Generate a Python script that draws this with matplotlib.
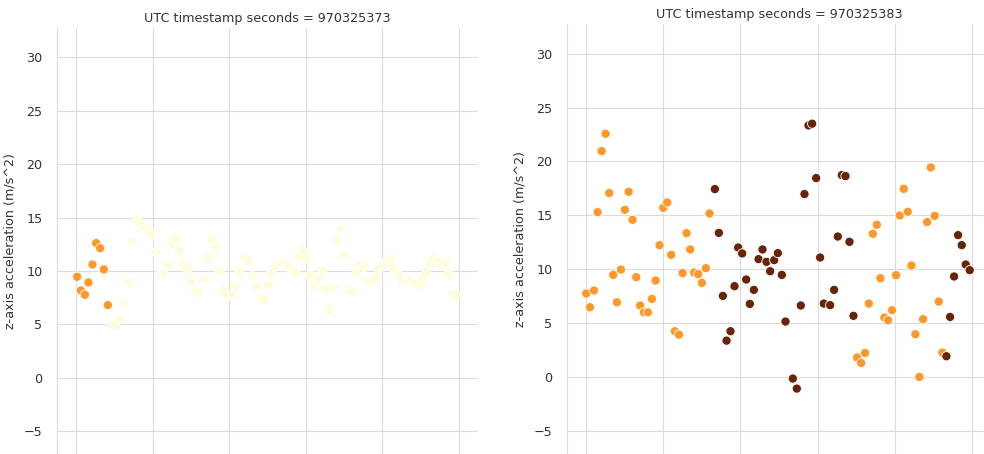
import matplotlib
matplotlib.use("Agg")
import matplotlib.pyplot as plt
import seaborn as sns

sns.set_style("whitegrid", {"grid.color": ".86", "axes.edgecolor": ".86"})
plt.rcParams["font.family"] = ["DejaVu Sans"]
plt.rcParams["font.size"] = 9.2

# sample position within the second and z-acceleration, one block per timestamp
ts_a = 970325373
x_a = [0.26, 1.22, 2.26, 3.22, 4.27, 5.23, 6.27, 7.23, 8.28, 9.32,
       10.37, 11.32, 12.37, 13.94, 14.9, 15.85, 16.81, 17.86, 18.9, 19.77,
       20.91, 22.04, 23.0, 24.04, 24.91, 25.96, 26.92, 27.96, 29.01, 30.05,
       31.18, 32.23, 33.36, 34.41, 35.45, 36.41, 37.46, 38.5, 39.63, 40.51,
       41.55, 42.51, 43.99, 45.03, 45.99, 47.21, 48.17, 49.22, 50.09, 50.96,
       52.09, 53.14, 54.18, 55.31, 56.18, 57.23, 58.1, 59.06, 60.1, 61.15,
       62.11, 63.15, 64.2, 65.16, 66.2, 67.25, 68.21, 69.08, 70.12, 71.17,
       72.13, 73.17, 74.04, 75.17, 76.22, 77.26, 78.14, 79.09, 80.14, 81.18,
       82.32, 83.19, 84.23, 85.37, 86.41, 87.54, 88.41, 89.46, 90.42, 91.46,
       92.33, 93.38, 94.51, 95.38, 96.43, 97.39, 98.43, 99.48]
z_a = [9.45, 8.17, 7.77, 8.92, 10.6, 12.6, 12.13, 10.14, 6.8, 4.95,
       4.95, 5.52, 6.92, 8.87, 12.69, 14.72, 14.4, 13.97, 13.79, 13.45,
       11.79, 9.74, 9.7, 10.57, 12.5, 13.0, 11.93, 10.63, 10.1, 9.05,
       8.08, 7.95, 9.26, 11.23, 12.98, 12.14, 9.95, 8.15, 7.64, 7.7,
       8.58, 9.98, 11.23, 10.92, 9.51, 8.52, 7.42, 7.39, 8.67, 9.83,
       10.45, 10.76, 10.76, 10.54, 9.98, 9.83, 11.29, 11.92, 11.17, 9.61,
       8.58, 9.3, 9.98, 8.33, 6.39, 8.42, 12.88, 13.98, 11.45, 8.2,
       7.95, 9.75, 10.45, 10.36, 9.11, 8.95, 9.42, 10.2, 10.45, 10.92,
       11.14, 10.14, 9.58, 8.98, 8.98, 9.11, 8.83, 8.67, 9.05, 9.83,
       10.67, 11.17, 10.92, 10.45, 10.76, 9.73, 7.8, 7.64]
level_a = ["mid"] * 9 + ["low"] * 89

ts_b = 970325383
x_b = [0.0, 0.95, 1.99, 2.94, 3.98, 5.01, 5.96, 7.0, 7.95, 8.99,
       10.02, 10.98, 12.01, 12.96, 14.0, 14.95, 15.99, 17.03, 17.98, 19.01,
       19.97, 21.0, 22.04, 22.99, 24.03, 24.98, 26.01, 26.97, 28.0, 29.04,
       29.99, 31.03, 31.98, 33.36, 34.4, 35.44, 36.39, 37.42, 38.46, 39.41,
       40.45, 41.49, 42.44, 43.48, 44.69, 45.72, 46.76, 47.71, 48.75, 49.7,
       50.73, 51.68, 53.59, 54.62, 55.66, 56.61, 57.65, 58.6, 59.64, 60.67,
       61.62, 63.27, 64.3, 65.25, 66.29, 67.24, 68.28, 69.32, 70.27, 71.3,
       72.34, 73.29, 74.33, 75.37, 76.32, 77.36, 78.31, 79.34, 80.38, 81.33,
       82.37, 83.4, 84.36, 85.39, 86.43, 87.38, 88.42, 89.37, 90.4, 91.44,
       92.39, 93.43, 94.38, 95.42, 96.46, 97.41, 98.44, 99.48]
z_b = [7.74, 6.47, 8.02, 15.29, 20.96, 22.57, 17.06, 9.47, 6.93, 9.97,
       15.51, 17.18, 14.58, 9.26, 6.63, 6.0, 6.0, 7.24, 8.95, 12.23,
       15.7, 16.19, 11.33, 4.24, 3.93, 9.63, 13.34, 11.83, 9.69, 9.54,
       8.73, 10.09, 15.17, 17.43, 13.37, 7.52, 3.37, 4.24, 8.42, 12.01,
       11.46, 9.04, 6.78, 8.08, 10.93, 11.83, 10.68, 9.81, 10.84, 11.49,
       9.47, 5.14, -0.15, -1.08, 6.63, 16.97, 23.34, 23.5, 18.45, 11.08,
       6.81, 6.66, 8.08, 13.03, 18.73, 18.64, 12.54, 5.67, 1.8, 1.3,
       2.23, 6.81, 13.28, 14.12, 9.16, 5.51, 5.26, 6.19, 9.44, 14.98,
       17.46, 15.33, 10.34, 3.96, 0.0, 5.36, 14.37, 19.44, 14.95, 7.0,
       2.26, 1.92, 5.57, 9.32, 13.16, 12.23, 10.43, 9.91]
level_b = ["mid"] * 33 + ["high"] * 35 + ["mid"] * 23 + ["high"] * 7

palette = {"low": "#fffcdb", "mid": "#fe9929", "high": "#662506"}

W, H = 984, 454
fig = plt.figure(figsize=(W / 100, H / 100), dpi=100)
ax1 = fig.add_axes([57 / W, 0, 421 / W, (H - 28) / H])
ax2 = fig.add_axes([567 / W, 0, 424 / W, (H - 24) / H])

for ax, ts, x, z, lvl in [(ax1, ts_a, x_a, z_a, level_a),
                          (ax2, ts_b, x_b, z_b, level_b)]:
    sns.scatterplot(x=x, y=z, hue=lvl, palette=palette, s=44,
                    edgecolor="white", linewidth=0.6, legend=False, ax=ax)
    ax.set_xlim(-5, 105)
    ax.set_ylim(-7.15, 32.75)
    ax.set_xticks(range(0, 101, 20))
    ax.set_xticklabels([])
    ax.set_yticks(range(-5, 31, 5))
    ax.tick_params(axis="y", pad=7, labelsize=9.2, colors=".2")
    ax.set_ylabel("z-axis acceleration (m/s^2)", fontsize=9.2,
                  color=".2", labelpad=5)
    ax.set_title(f"UTC timestamp seconds = {ts}", fontsize=9.2,
                 color=".2", pad=4.5)
    sns.despine(ax=ax, bottom=True)

fig.savefig("out.png", dpi=100)
